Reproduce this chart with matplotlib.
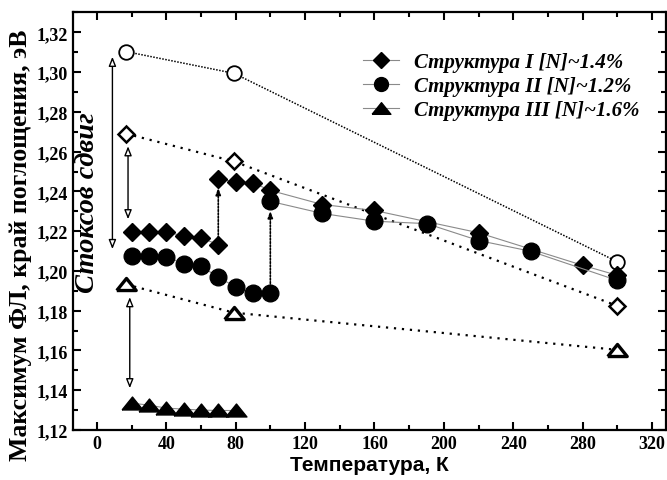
import matplotlib
matplotlib.use("Agg")
import matplotlib.pyplot as plt
from matplotlib.lines import Line2D
from matplotlib.ticker import MultipleLocator, FuncFormatter

# Structure I: PL maximum, low-energy branch and high-energy branch
t1_low = [20, 30, 40, 50, 60, 70]
e1_low = [1.2195, 1.2195, 1.2195, 1.2177, 1.2167, 1.2132]
t1_high = [70, 80, 90, 100, 130, 160, 220, 280, 300]
e1_high = [1.2463, 1.2448, 1.2443, 1.2405, 1.2334, 1.2304, 1.2192, 1.2028, 1.1978]

# Structure II
t2_low = [20, 30, 40, 50, 60, 70, 80, 90, 100]
e2_low = [1.2074, 1.2074, 1.2071, 1.2036, 1.2024, 1.1969, 1.1919, 1.1887, 1.1887]
t2_high = [100, 130, 160, 190, 220, 250, 300]
e2_high = [1.2350, 1.2289, 1.2250, 1.2238, 1.2153, 1.2099, 1.1952]

# Structure III
t3 = [20, 30, 40, 50, 60, 70, 80]
e3 = [1.1335, 1.1325, 1.1310, 1.1305, 1.1300, 1.1298, 1.1298]

# absorption edge (open symbols)
t_abs = [17, 79, 300]
abs1 = [1.2690, 1.2551, 1.1824]
abs2 = [1.3103, 1.2994, 1.2046]
abs3 = [1.1932, 1.1790, 1.1603]

labels = ["Структура I [N]~1.4%", "Структура II [N]~1.2%", "Структура III [N]~1.6%"]

# vertical arrows: (x, y_from, y_to)
stokes_arrows = [(9, 1.2110, 1.3077), (18, 1.2260, 1.2627), (19, 1.1410, 1.1868)]
jump_arrows = [(70, 1.2132, 1.2418), (100, 1.1887, 1.2302)]

SERIF = "Liberation Serif"
SANS = "Liberation Sans"

# wide flat triangle
tri = [(-1, -0.62), (1, -0.62), (0, 0.62), (-1, -0.62)]

fig = plt.figure(figsize=(6.67, 4.81), dpi=100)
ax = fig.add_axes([0.1087, 0.104, 0.8898, 0.868])

gray = "#8a8a8a"
ax.plot(t1_low, e1_low, color=gray, lw=0.8, marker="D", ms=9.5, mfc="black", mec="black", zorder=3)
ax.plot(t1_high, e1_high, color=gray, lw=0.8, marker="D", ms=9.5, mfc="black", mec="black", zorder=3)
ax.plot(t2_low, e2_low, color=gray, lw=0.8, marker="o", ms=12, mfc="black", mec="black", zorder=4)
ax.plot(t2_high, e2_high, color=gray, lw=0.8, marker="o", ms=12, mfc="black", mec="black", zorder=4)
ax.plot(t3, e3, color=gray, lw=0.8, marker=tri, ms=15, mfc="black", mec="black", zorder=4)

ax.plot(t_abs, abs2, color="black", lw=1.1, ls=(0, (1, 1)), marker="o", ms=10.5,
        mfc="white", mec="black", mew=1.3, zorder=2)
ax.plot(t_abs, abs1, color="black", lw=1.6, ls=(0, (1, 2.6)), marker="D", ms=7.8,
        mfc="white", mec="black", mew=1.8, zorder=2)
ax.plot(t_abs, abs3, color="black", lw=1.6, ls=(0, (1, 2.6)), marker=tri, ms=14,
        mfc="white", mec="black", mew=2.4, zorder=2)

for x, y0, y1 in stokes_arrows:
    ax.annotate("", xy=(x, y1), xytext=(x, y0),
                arrowprops=dict(arrowstyle="<|-|>,head_length=0.55,head_width=0.22",
                                fc="white", ec="black", lw=1.0, shrinkA=0, shrinkB=0),
                zorder=1)
for x, y0, y1 in jump_arrows:
    ax.annotate("", xy=(x, y1), xytext=(x, y0),
                arrowprops=dict(arrowstyle="-|>,head_length=0.4,head_width=0.15",
                                fc="black", ec="black", lw=1.2, ls=(0, (1, 1)),
                                shrinkA=0, shrinkB=0),
                zorder=1)

ax.text(-5.4, 1.235, "Стоксов сдвиг", rotation=90, ha="center", va="center",
        family=SERIF, fontsize=20.5, fontweight="bold", fontstyle="italic")

handles = [
    Line2D([], [], color=gray, lw=0.8, marker="D", ms=8, mfc="black", mec="black"),
    Line2D([], [], color=gray, lw=0.8, marker="o", ms=10, mfc="black", mec="black"),
    Line2D([], [], color=gray, lw=0.8, marker=tri, ms=13.5, mfc="black", mec="black"),
]
ax.legend(handles, labels, loc="upper left", bbox_to_anchor=(0.49, 0.905), frameon=False,
          borderpad=0, borderaxespad=0, handlelength=1.7, handletextpad=0.75,
          labelspacing=0.2, prop=dict(family=SERIF, size=15, weight="bold", style="italic"))

ax.set_xlim(-14, 328)
ax.set_ylim(1.12, 1.33)
ax.xaxis.set_major_locator(MultipleLocator(40))
ax.xaxis.set_minor_locator(MultipleLocator(20))
ax.yaxis.set_major_locator(MultipleLocator(0.02))
ax.yaxis.set_minor_locator(MultipleLocator(0.01))
ax.yaxis.set_major_formatter(FuncFormatter(lambda v, p: f"{v:.2f}".replace(".", ",")))
ax.tick_params(which="both", direction="in", top=True, right=True, width=1.5)
ax.tick_params(which="major", length=6)
ax.tick_params(which="minor", length=3.5)
for lab in ax.get_xticklabels() + ax.get_yticklabels():
    lab.set_family(SERIF)
    lab.set_fontweight("bold")
    lab.set_fontsize(13)
for sp in ax.spines.values():
    sp.set_linewidth(1.6)

ax.set_xlabel("Температура, К", family=SANS, fontsize=15, fontweight="bold", labelpad=2)
ax.set_ylabel("Максимум ФЛ, край поглощения, эВ", family=SERIF, fontsize=18.5,
              fontweight="bold")
ax.yaxis.set_label_coords(-0.068, 0.445)

fig.savefig("out.png", dpi=100)
